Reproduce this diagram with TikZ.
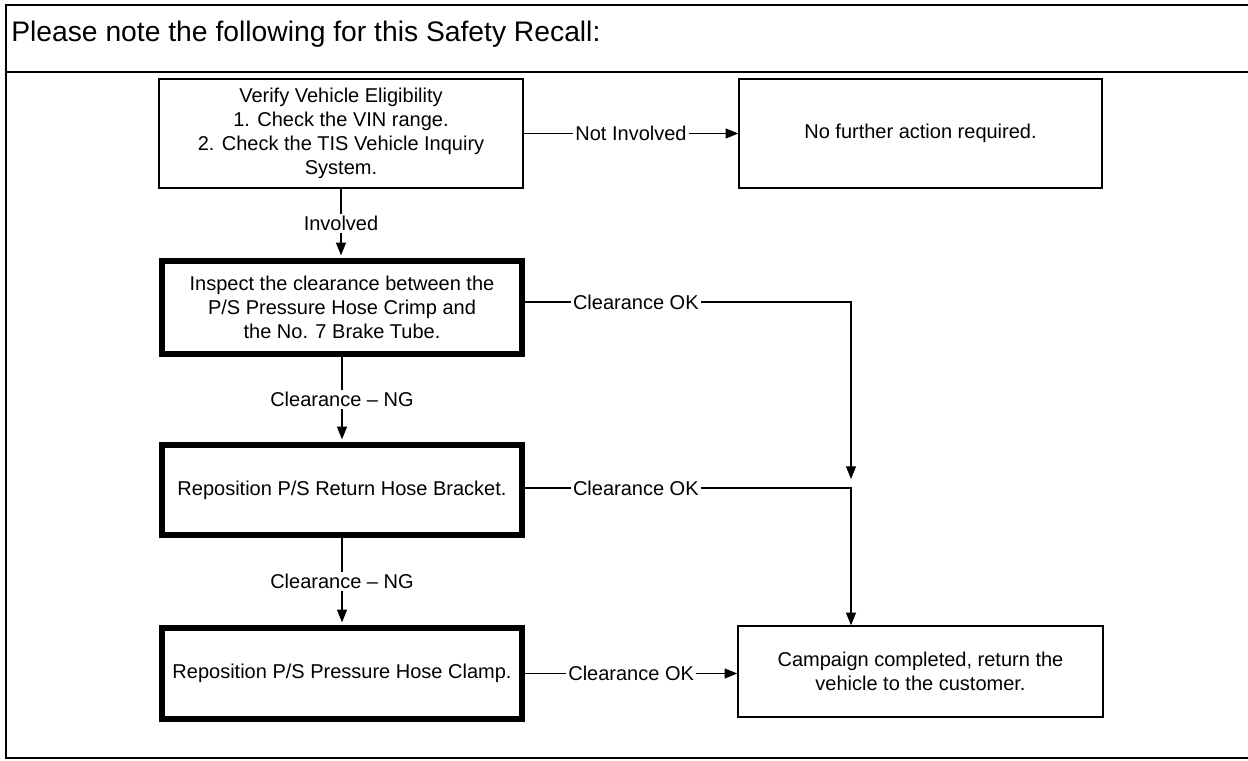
\documentclass[tikz,border=0pt]{standalone}
\usepackage{fontspec}
\setmainfont{Liberation Sans}
\usetikzlibrary{arrows.meta}
\begin{document}
\begin{tikzpicture}[x=0.75pt,y=-0.75pt,
  boxtext/.style={align=center, inner sep=0pt, font=\fontsize{15}{18}\selectfont},
  thinbox/.style={boxtext, draw, line width=1.1pt},
  thickbox/.style={boxtext, draw, line width=4.5pt},
  lbl/.style={fill=white, inner sep=1.5pt, font=\fontsize{15}{18}\selectfont},
  conn/.style={line width=0.8pt},
  arr/.style={conn, -{Triangle[length=9.5pt,width=7.5pt]}},
  frameline/.style={line width=1.6pt}]
\useasboundingbox (0,0) rectangle (1248,760);
\fill[white] (0,0) rectangle (1248,760);
% frame
\draw[frameline] (1248,5) -- (6,5) -- (6,758) -- (1248,758);
\draw[frameline] (6,72) -- (1248,72);
\node[anchor=base west, inner sep=0pt, font=\fontsize{21.2}{25}\selectfont] (hdr) at (11,41) {Please note the following for this Safety Recall:};
% boxes
\node[thinbox, minimum width=273pt, minimum height=81.75pt] (verify) at (341,133.5)
  {Verify Vehicle Eligibility\\1. Check the VIN range.\\2. Check the TIS Vehicle Inquiry\\System.};
\node[thinbox, minimum width=272.25pt, minimum height=81.75pt] (nofurther) at (920.5,133.5)
  {No further action required.};
\node[thickbox, minimum width=270pt, minimum height=69.75pt] (inspect) at (342,307.5)
  {Inspect the clearance between the\\P/S Pressure Hose Crimp and\\the No. 7 Brake Tube.};
\node[thickbox, minimum width=270pt, minimum height=67.5pt] (bracket) at (342,490)
  {Reposition P/S Return Hose Bracket.};
\node[thickbox, minimum width=270pt, minimum height=68.25pt] (clamp) at (342,673.5)
  {Reposition P/S Pressure Hose Clamp.};
\node[thinbox, minimum width=273.75pt, minimum height=68.25pt] (done) at (920.5,671.5)
  {Campaign completed, return the\\vehicle to the customer.};
% connectors
\draw[arr] (verify.east) -- node[lbl]{Not Involved} (nofurther.west);
\draw[arr, shorten >=2pt] (verify.south) -- node[lbl]{Involved} (verify.south |- inspect.north);
\draw[arr, shorten >=2pt] (inspect.south) -- node[lbl]{Clearance – NG} (bracket.north);
\draw[arr, shorten >=2pt] (bracket.south) -- node[lbl]{Clearance – NG} (clamp.north);
\coordinate (c1) at (851,302);
\coordinate (j1) at (851,479);
\coordinate (c2) at (851,488);
\draw[arr] (inspect.east |- c1) -- node[lbl, pos=0.34]{Clearance OK} (c1) -- (j1);
\draw[arr] (bracket.east |- c2) -- node[lbl, pos=0.34]{Clearance OK} (c2) -- (c2 |- done.north);
\draw[arr] (clamp.east) -- node[lbl]{Clearance OK} (clamp.east -| done.west);
\end{tikzpicture}
\end{document}
